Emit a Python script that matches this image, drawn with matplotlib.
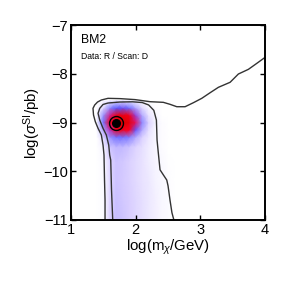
import numpy as np
import matplotlib
matplotlib.use("Agg")
import matplotlib.pyplot as plt
from matplotlib.colors import LinearSegmentedColormap

plt.rcParams['font.family'] = ['Liberation Sans', 'DejaVu Sans']
plt.rcParams['mathtext.fontset'] = 'custom'
plt.rcParams['mathtext.rm'] = 'Liberation Sans'
plt.rcParams['mathtext.it'] = 'Liberation Sans:italic'

# density grid, x = log(m/GeV), y = log(sigma/pb)
dens_x = [1.40, 1.50, 1.60, 1.70, 1.80, 1.90, 2.00, 2.10, 2.20, 2.30, 2.40, 2.50, 2.60]
dens_y = [-11.0, -10.6, -10.2, -9.8, -9.5, -9.3, -9.15, -9.0, -8.85, -8.7, -8.55]
dens_z = [
    [0, 0.03, 0.20, 0.26, 0.24, 0.21, 0.18, 0.15, 0.12, 0.09, 0.05, 0.03, 0],
    [0, 0.03, 0.19, 0.25, 0.23, 0.21, 0.18, 0.15, 0.12, 0.09, 0.05, 0.03, 0],
    [0, 0.03, 0.18, 0.24, 0.22, 0.20, 0.17, 0.14, 0.12, 0.08, 0.05, 0.02, 0],
    [0, 0.04, 0.19, 0.24, 0.23, 0.20, 0.17, 0.14, 0.10, 0.07, 0.04, 0.01, 0],
    [0, 0.08, 0.24, 0.28, 0.27, 0.24, 0.19, 0.15, 0.10, 0.06, 0.02, 0, 0],
    [0, 0.18, 0.38, 0.45, 0.45, 0.42, 0.32, 0.20, 0.12, 0.06, 0.02, 0, 0],
    [0.05, 0.35, 0.62, 0.80, 0.82, 0.74, 0.52, 0.32, 0.15, 0.06, 0.02, 0, 0],
    [0.08, 0.45, 0.78, 0.96, 1.00, 0.92, 0.68, 0.40, 0.20, 0.08, 0.02, 0, 0],
    [0.05, 0.38, 0.65, 0.84, 0.88, 0.80, 0.58, 0.32, 0.14, 0.06, 0, 0, 0],
    [0, 0.18, 0.40, 0.50, 0.52, 0.46, 0.34, 0.18, 0.07, 0.02, 0, 0, 0],
    [0, 0.02, 0.08, 0.12, 0.12, 0.10, 0.07, 0.03, 0, 0, 0, 0, 0],
]

# outer contour
outer_x = [1.526, 1.526, 1.518, 1.510, 1.495, 1.469, 1.418, 1.376, 1.348, 1.340, 1.366,
           1.41, 1.469, 1.572, 1.758, 1.99, 2.222, 2.427, 2.531, 2.635, 2.763, 2.891,
           3.021, 3.150, 3.278, 3.459, 3.587, 3.742, 3.872, 4.0]
outer_y = [-11.0, -10.59, -10.18, -9.667, -9.462, -9.256, -9.119, -8.984, -8.846, -8.709,
           -8.641, -8.58, -8.538, -8.504, -8.51, -8.53, -8.573, -8.586, -8.627, -8.676,
           -8.676, -8.594, -8.504, -8.389, -8.278, -8.175, -8.005, -7.909, -7.786, -7.663]

# inner contour
inner_x = [1.645, 1.626, 1.614, 1.598, 1.583, 1.546, 1.495, 1.444, 1.418, 1.444, 1.495,
           1.572, 1.75, 1.95, 2.10, 2.20, 2.28, 2.32, 2.33, 2.35, 2.376, 2.43, 2.48,
           2.50, 2.53, 2.56, 2.59]
inner_y = [-11.0, -10.38, -9.77, -9.667, -9.462, -9.256, -9.119, -8.949, -8.811, -8.709,
           -8.63, -8.60, -8.58, -8.575, -8.59, -8.64, -8.75, -8.95, -9.36, -9.63, -9.97,
           -10.08, -10.18, -10.30, -10.59, -10.85, -11.0]

best_fit = (1.696, -9.01)

fig = plt.figure(figsize=(2.91, 2.91), dpi=100)
ax = fig.add_axes([0.244, 0.244, 0.667, 0.670])

cmap = LinearSegmentedColormap.from_list('post', [
    (0.0, (1, 1, 1)),
    (0.08, (0.96, 0.95, 1.0)),
    (0.2, (0.86, 0.82, 1.0)),
    (0.35, (0.66, 0.62, 1.0)),
    (0.5, (0.35, 0.35, 1.0)),
    (0.62, (0.7, 0.2, 0.75)),
    (0.72, (1.0, 0.0, 0.15)),
    (1.0, (0.85, 0.0, 0.0)),
])
X, Y = np.meshgrid(dens_x, dens_y)
ax.pcolormesh(X, Y, np.array(dens_z), shading='gouraud', cmap=cmap, vmin=0, vmax=1,
              rasterized=True)

ax.plot(outer_x, outer_y, color='#333333', lw=1.0)
ax.plot(inner_x, inner_y, color='#333333', lw=1.0)

ax.plot(*best_fit, 'o', ms=5.5, color='black')
ax.plot(*best_fit, 'o', ms=10, mfc='none', mec='black', mew=1.0)

ax.set_xlim(1, 4)
ax.set_ylim(-11, -7)
ax.set_xticks([1, 2, 3, 4])
ax.set_yticks([-11, -10, -9, -8, -7])
ax.set_xticklabels(['1', '2', '3', '4'])
ax.set_yticklabels(['\u221211', '\u221210', '\u22129', '\u22128', '\u22127'])
ax.tick_params(direction='in', top=True, right=True, length=3.5, width=1.0,
               labelsize=10.5, pad=2)
for s in ax.spines.values():
    s.set_linewidth(1.4)

ax.set_xlabel(r'log(m$_\chi$/GeV)', fontsize=10.8, labelpad=1)
ax.set_ylabel(r'log($\sigma^{\rm SI}$/pb)', fontsize=10.8, labelpad=0)

ax.text(0.05, 0.955, 'BM2', transform=ax.transAxes, fontsize=8.8, va='top')
ax.text(0.05, 0.86, 'Data: R / Scan: D', transform=ax.transAxes, fontsize=6.2, va='top')

fig.savefig('out.png', dpi=100)
